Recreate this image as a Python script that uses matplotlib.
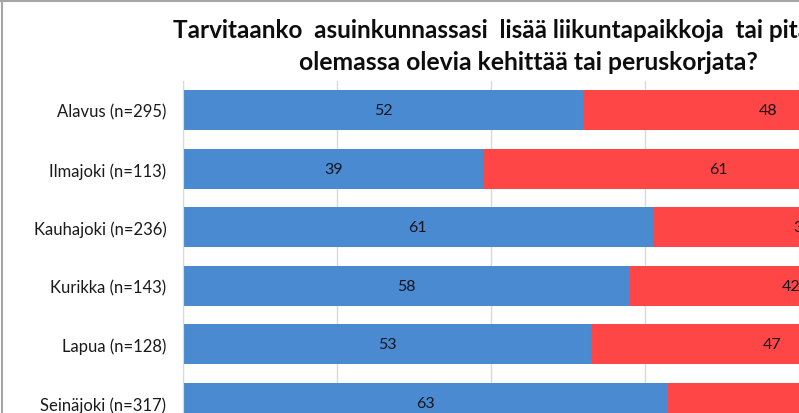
import matplotlib.pyplot as plt

kunnat = [
    "Alavus (n=295)",
    "Ilmajoki (n=113)",
    "Kauhajoki (n=236)",
    "Kurikka (n=143)",
    "Lapua (n=128)",
    "Seinäjoki (n=317)",
]
lisaa = [52, 39, 61, 58, 53, 63]
kehittaa = [48, 61, 39, 42, 47, 37]

title_1 = "Tarvitaanko  asuinkunnassasi  lisää liikuntapaikkoja  tai pitäisikö"
title_2 = "olemassa olevia kehittää tai peruskorjata?"

plt.rcParams["font.family"] = ["Lato", "DejaVu Sans"]

W, H = 799, 414
fig = plt.figure(figsize=(W / 100, H / 100), dpi=100)
fig.patch.set_facecolor("white")

# axes run past the right and bottom edges, like the cropped original
ax = fig.add_axes([183 / W, (H - 433) / H, 770 / W, 351 / H])

y = list(range(len(kunnat)))
ax.barh(y, lisaa, height=0.68, color="#4A8AD0", zorder=2)
ax.barh(y, kehittaa, left=lisaa, height=0.68, color="#FF4646", zorder=2)

for i in y:
    ax.text(lisaa[i] / 2, i, str(lisaa[i]), ha="center", va="center",
            fontsize=11.5, color="#15151f", zorder=3)
    ax.text(lisaa[i] + kehittaa[i] / 2, i, str(kehittaa[i]), ha="center",
            va="center", fontsize=11.5, color="#15151f", zorder=3)

ax.set_xlim(0, 100)
ax.set_ylim(len(kunnat) - 0.5, -0.5)
ax.set_xticks(range(0, 101, 20))
ax.xaxis.grid(True, color="#d9d9d9", linewidth=1, zorder=0)
ax.tick_params(axis="x", length=0, labelbottom=False)
ax.tick_params(axis="y", length=0, pad=12, labelsize=12, labelcolor="#1a1a1a")
ax.set_yticks(y)
ax.set_yticklabels(kunnat)
for side in ("top", "right", "bottom"):
    ax.spines[side].set_visible(False)
ax.spines["left"].set_color("#d9d9d9")

fig.text(173 / W, 1 - 30 / H, title_1, ha="left", va="center",
         fontsize=17.5, fontweight="bold", color="#0d0d0d")
fig.text(528 / W, 1 - 62 / H, title_2, ha="center", va="center",
         fontsize=17.8, fontweight="bold", color="#0d0d0d")

# thin grey frame at the top and left edge
fig.add_artist(plt.Line2D([1.5 / W, 1.5 / W], [0, 1], color="#a6a6a6", lw=1.5))
fig.add_artist(plt.Line2D([0, 1], [1 - 1.5 / H, 1 - 1.5 / H], color="#a6a6a6", lw=1.5))

fig.savefig("out.png", dpi=100)
